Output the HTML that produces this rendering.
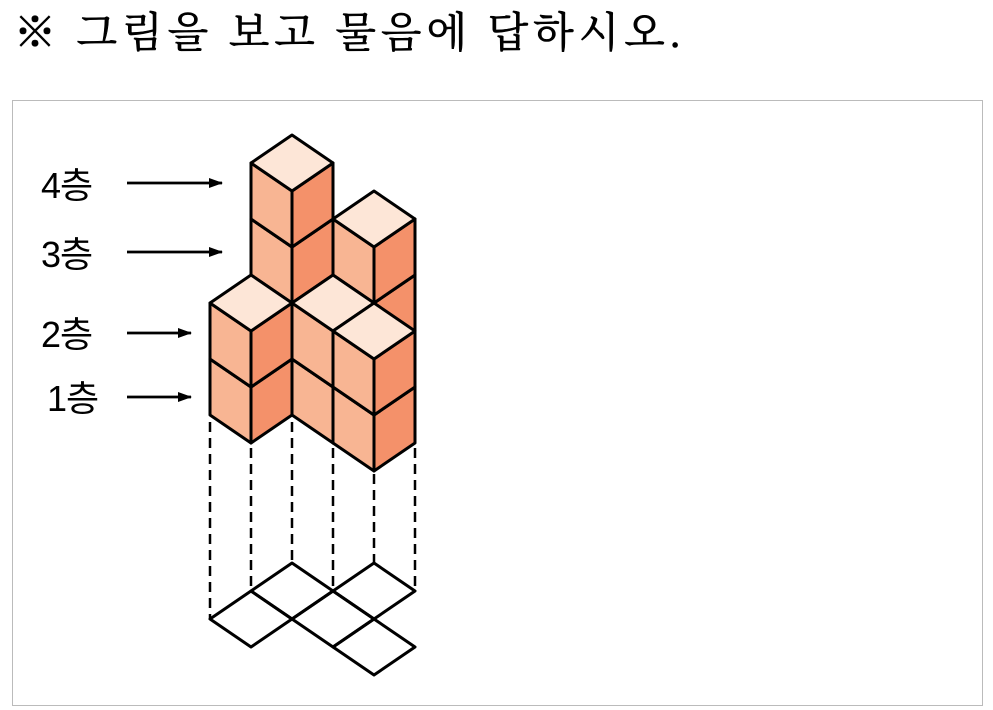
<!DOCTYPE html>
<html><head><meta charset="utf-8">
<style>
html,body{margin:0;padding:0;background:#fff;width:993px;height:710px;overflow:hidden}
.title{position:absolute;left:14px;top:0px;font-family:"Liberation Serif","Noto Serif CJK SC",serif;font-size:42px;letter-spacing:5px;white-space:nowrap;color:#000;-webkit-text-stroke:0.6px #000}
.box{position:absolute;left:12px;top:100px;width:969px;height:604px;border:1px solid #bbb}
svg{position:absolute;left:0;top:0}
.lbl{font-family:"Liberation Sans","Noto Sans CJK KR",sans-serif;font-size:36px;letter-spacing:-1px;fill:#000}
</style></head><body>
<div class="title">※ 그림을 보고 물음에 답하시오.</div>
<div class="box"></div>
<svg id="s" width="993" height="710" viewBox="0 0 993 710">
<defs><marker id="ar" markerWidth="14" markerHeight="12" refX="13" refY="6" orient="auto" markerUnits="userSpaceOnUse"><path d="M0,1 L14,6 L0,11 Z" fill="#000"/></marker></defs>
<text class="lbl" x="41" y="198">4층</text>
<text class="lbl" x="41" y="267">3층</text>
<text class="lbl" x="41" y="347">2층</text>
<text class="lbl" x="47" y="411">1층</text>
<g stroke="#000" stroke-width="2.8">
<line x1="127" y1="183" x2="222" y2="183" marker-end="url(#ar)"/>
<line x1="127" y1="252" x2="222" y2="252" marker-end="url(#ar)"/>
<line x1="127" y1="333" x2="191" y2="333" marker-end="url(#ar)"/>
<line x1="127" y1="397" x2="191" y2="397" marker-end="url(#ar)"/>
</g>
<g stroke="#000" stroke-width="2.5" stroke-dasharray="10,6">
<line x1="210" y1="422" x2="210" y2="619"/>
<line x1="251" y1="448" x2="251" y2="591"/>
<line x1="292" y1="422" x2="292" y2="563"/>
<line x1="333" y1="448" x2="333" y2="591"/>
<line x1="374" y1="474" x2="374" y2="563"/>
<line x1="415" y1="448" x2="415" y2="591"/>
</g>
<g id="floor" fill="none" stroke="#000" stroke-width="3" stroke-linejoin="round"></g>
<g id="cubes" stroke="#000" stroke-width="3" stroke-linejoin="round"></g>
</svg>
<script>
var ns="http://www.w3.org/2000/svg";
function poly(g,pts,fill){var p=document.createElementNS(ns,"polygon");p.setAttribute("points",pts.map(function(q){return q[0]+","+q[1]}).join(" "));p.setAttribute("fill",fill);g.appendChild(p);}
var cells=[[1,-1,3],[0,0,4],[0,1,2],[1,0,2],[2,0,2]];
var fg=document.getElementById("floor"),cg=document.getElementById("cubes");
cells.forEach(function(c){var x=292+41*(c[0]-c[1]),y=563+28*(c[0]+c[1]);
poly(fg,[[x,y],[x+41,y+28],[x,y+56],[x-41,y+28]],"none");});
cells.forEach(function(c){var x=292+41*(c[0]-c[1]);
for(var k=0;k<c[2];k++){var y=359+28*(c[0]+c[1])-56*(k+1);
poly(cg,[[x-41,y+28],[x,y+56],[x,y+112],[x-41,y+84]],"#f8b593");
poly(cg,[[x,y+56],[x+41,y+28],[x+41,y+84],[x,y+112]],"#f4916a");
poly(cg,[[x,y],[x+41,y+28],[x,y+56],[x-41,y+28]],"#fde6d7");}});
</script>
</body></html>
